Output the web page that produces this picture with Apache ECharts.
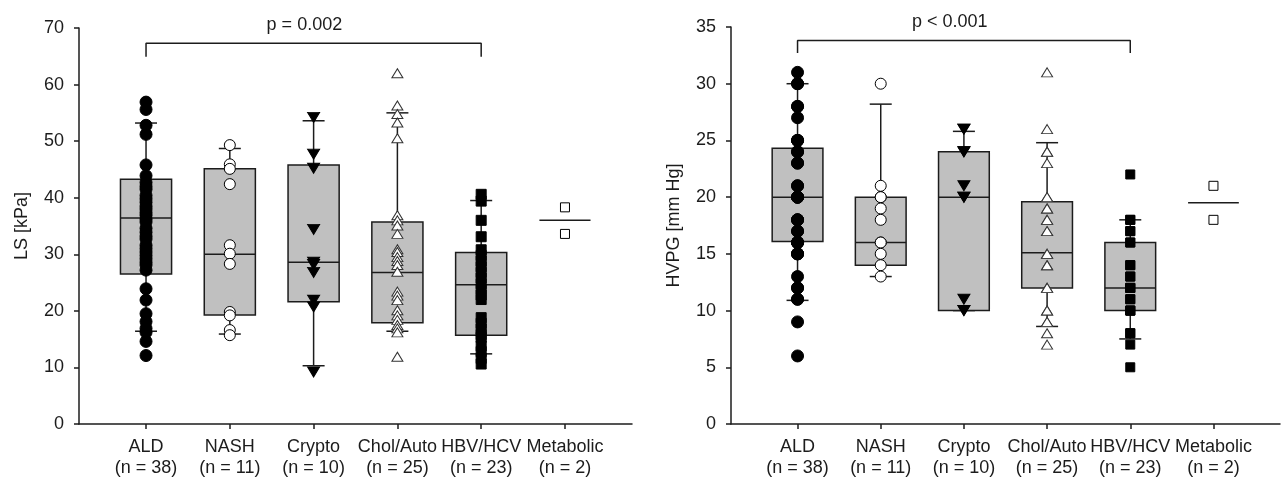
<!DOCTYPE html>
<html>
<head>
<meta charset="utf-8">
<script src="https://cdn.jsdelivr.net/npm/echarts@6/dist/echarts.min.js"></script>
<style>
  html, body { margin: 0; padding: 0; background: #fff; }
  #chart { width: 1285px; height: 479px; }
</style>
</head>
<body>
<div id="chart"></div>
<script>
// categories and group sizes
const categories = ["ALD", "NASH", "Crypto", "Chol/Auto", "HBV/HCV", "Metabolic"];
const groupN = [38, 11, 10, 25, 23, 2];

// LS [kPa] box statistics (lower whisker, Q1, median, Q3, upper whisker)
const lsLow = [16.4, 15.9, 10.3, 16.4, 12.4, null];
const lsQ1 = [26.5, 19.25, 21.6, 17.9, 15.7, null];
const lsMed = [36.4, 30.0, 28.6, 26.8, 24.6, 36.0];
const lsQ3 = [43.25, 45.1, 45.8, 35.7, 30.3, null];
const lsHigh = [53.2, 48.7, 53.6, 55.0, 39.5, null];

// LS individual values
const lsALD = [56.9, 55.6, 52.8, 51.2, 45.8, 43.9, 42.7, 42.0, 41.5, 40.4, 39.8, 39.2, 38.5, 38.0, 37.4, 36.9, 36.2, 35.7, 34.6, 33.9, 33.2, 32.7, 31.6, 31.0, 30.4, 29.8, 29.2, 28.6, 28.1, 27.2, 23.9, 21.9, 19.5, 18.1, 16.9, 16.2, 14.6, 12.1];
const lsNASH = [49.3, 45.9, 45.1, 42.4, 31.6, 30.1, 28.3, 19.8, 19.2, 16.6, 15.7];
const lsCrypto = [54.2, 47.7, 45.2, 34.4, 28.6, 28.2, 26.8, 21.9, 20.7, 9.2];
const lsChol = [62.0, 56.3, 54.8, 53.3, 50.5, 36.9, 36.0, 35.1, 33.6, 30.9, 30.4, 29.5, 28.8, 28.1, 26.9, 23.4, 22.7, 21.9, 20.1, 19.2, 18.4, 17.5, 16.9, 16.2, 11.9];
const lsHBV = [40.6, 39.4, 36.0, 33.1, 30.8, 29.8, 28.8, 27.8, 26.8, 25.8, 24.8, 23.8, 22.8, 22.0, 18.8, 17.8, 16.8, 15.8, 15.3, 13.8, 12.8, 11.6, 10.6];
const lsMeta = [38.3, 33.6];

// HVPG [mm Hg] box statistics
const hvLow = [10.9, 13.0, 10.0, 8.6, 7.5, null];
const hvQ1 = [16.1, 14.0, 10.0, 12.0, 10.0, null];
const hvMed = [20.0, 16.0, 20.0, 15.1, 12.0, 19.5];
const hvQ3 = [24.3, 20.0, 24.0, 19.6, 16.0, null];
const hvHigh = [30.0, 28.2, 25.8, 24.8, 18.0, null];

// HVPG individual values
const hvALD = [31, 30, 30, 28, 28, 27, 25, 25, 25, 24, 24, 23, 23, 21, 21, 20, 20, 20, 20, 18, 18, 18, 17, 17, 16, 16, 16, 16, 15, 15, 15, 13, 12, 12, 11, 11, 9, 6];
const hvNASH = [30, 21, 20, 20, 19, 18, 16, 16, 15, 14, 13];
const hvCrypto = [26, 26, 24, 24, 21, 20, 20, 11, 10, 10];
const hvChol = [31, 26, 24, 24, 23, 20, 20, 19, 19, 18, 18, 17, 17, 15, 15, 14, 14, 12, 12, 10, 10, 9, 9, 8, 7];
const hvHBV = [22, 18, 18, 17, 17, 16, 16, 14, 14, 13, 13, 12, 12, 12, 11, 11, 10, 10, 10, 8, 8, 7, 5];
const hvMeta = [21, 18];

// significance brackets: [from category, to category, foot value, top value], label value
const bracketLS = [1, 5, 64.9, 67.3];
const pTextLS = ["p = 0.002", 2.89, 70.6];
const bracketHV = [1, 5, 32.7, 33.8];
const pTextHV = ["p < 0.001", 2.83, 35.4];

const INK = "#1c1c1c";
const FONT = "'Liberation Sans', Arial, sans-serif";

function renderBox(params, api) {
    const x = api.value(0);
    const lo = api.value(1), q1 = api.value(2), med = api.value(3), q3 = api.value(4), hi = api.value(5);
    const half = api.size([0.61, 0])[0] / 2;
    const cap = 11;
    const m = api.coord([x, med]);
    const style = { stroke: INK, lineWidth: 1.5, fill: null };
    const children = [];
    if (!isNaN(q1)) {
        const top = api.coord([x, q3]);
        const bot = api.coord([x, q1]);
        const hiP = api.coord([x, hi]);
        const loP = api.coord([x, lo]);
        children.push({ type: "line", shape: { x1: m[0], y1: hiP[1], x2: m[0], y2: top[1] }, style: style });
        children.push({ type: "line", shape: { x1: m[0], y1: loP[1], x2: m[0], y2: bot[1] }, style: style });
        children.push({ type: "line", shape: { x1: m[0] - cap, y1: hiP[1], x2: m[0] + cap, y2: hiP[1] }, style: style });
        children.push({ type: "line", shape: { x1: m[0] - cap, y1: loP[1], x2: m[0] + cap, y2: loP[1] }, style: style });
        children.push({
            type: "rect",
            shape: { x: m[0] - half, y: top[1], width: half * 2, height: bot[1] - top[1] },
            style: { fill: "#c0c0c0", stroke: INK, lineWidth: 1.5 }
        });
    }
    children.push({ type: "line", shape: { x1: m[0] - half, y1: m[1], x2: m[0] + half, y2: m[1] }, style: style });
    return { type: "group", children: children };
}

function boxData(low, q1, med, q3, high) {
    const e = v => (v == null ? "-" : v);
    return categories.map((c, i) => [i + 1, e(low[i]), e(q1[i]), e(med[i]), e(q3[i]), e(high[i])]);
}

const markers = [
    { symbol: "circle", size: 12, color: "#000", border: "#000" },
    { symbol: "circle", size: 11, color: "#fff", border: "#000" },
    { symbol: "triangle", size: [12, 10], color: "#000", border: "#000", rotate: 180 },
    { symbol: "triangle", size: [11, 9], color: "#fff", border: "#333" },
    { symbol: "rect", size: 10, color: "#000", border: "#000" },
    { symbol: "rect", size: 9, color: "#fff", border: "#000" }
];

function panelSeries(idx, stats, groups, bracket, pText, squareSize) {
    const list = [{
        type: "custom",
        xAxisIndex: idx,
        yAxisIndex: idx,
        renderItem: renderBox,
        encode: { x: 0, y: [1, 2, 3, 4, 5] },
        data: boxData.apply(null, stats),
        silent: true,
        z: 2
    }];
    groups.forEach((vals, g) => {
        const mk = markers[g];
        let size = mk.size;
        if (g === 4 && squareSize) size = squareSize;
        list.push({
            type: "scatter",
            xAxisIndex: idx,
            yAxisIndex: idx,
            symbol: mk.symbol,
            symbolSize: size,
            symbolRotate: mk.rotate || 0,
            itemStyle: { color: mk.color, borderColor: mk.border, borderWidth: 1, opacity: 1 },
            data: vals.map(v => [g + 1, v]),
            clip: false,
            silent: true,
            z: 3
        });
    });
    list.push({
        type: "line",
        xAxisIndex: idx,
        yAxisIndex: idx,
        symbol: "none",
        lineStyle: { color: INK, width: 1.5 },
        data: [[bracket[0], bracket[2]], [bracket[0], bracket[3]], [bracket[1], bracket[3]], [bracket[1], bracket[2]]],
        silent: true,
        z: 3
    });
    list.push({
        type: "scatter",
        xAxisIndex: idx,
        yAxisIndex: idx,
        symbolSize: 0,
        clip: false,
        itemStyle: { opacity: 1 },
        data: [[pText[1], pText[2]]],
        label: {
            show: true,
            position: "inside",
            formatter: pText[0],
            color: INK,
            opacity: 1,
            fontSize: 18,
            fontFamily: FONT
        },
        silent: true,
        z: 4
    });
    return list;
}

function xAxisDef(gridIndex) {
    const ticks = categories.map((c, i) => i + 1);
    return {
        type: "value",
        gridIndex: gridIndex,
        min: 0.2,
        max: 6.8,
        splitLine: { show: false },
        axisLine: { show: true, onZero: false, lineStyle: { color: INK, width: 1.5 } },
        axisTick: { show: true, customValues: ticks, length: 5, lineStyle: { color: INK, width: 1.5 } },
        axisLabel: {
            customValues: ticks,
            margin: 13,
            color: INK,
            fontSize: 18,
            fontFamily: FONT,
            lineHeight: 21,
            formatter: v => {
                const i = Math.round(v) - 1;
                return categories[i] + "\n(n = " + groupN[i] + ")";
            }
        }
    };
}

function yAxisDef(gridIndex, name, max, interval, gap) {
    return {
        type: "value",
        gridIndex: gridIndex,
        min: 0,
        max: max,
        interval: interval,
        name: name,
        nameLocation: "middle",
        nameGap: gap,
        nameTextStyle: { color: INK, fontSize: 18, fontFamily: FONT },
        splitLine: { show: false },
        axisLine: { show: true, lineStyle: { color: INK, width: 1.5 } },
        axisTick: { show: true, length: 5, lineStyle: { color: INK, width: 1.5 } },
        axisLabel: { margin: 15, color: INK, fontSize: 18, fontFamily: FONT }
    };
}

const chart = echarts.init(document.getElementById("chart"), null, { renderer: "canvas" });

const option = {
    animation: false,
    backgroundColor: "#fff",
    grid: [
        { left: 79, top: 28, width: 553, height: 398 },
        { left: 731, top: 27, width: 549, height: 397 }
    ],
    xAxis: [xAxisDef(0), xAxisDef(1)],
    yAxis: [
        yAxisDef(0, "LS [kPa]", 70, 10, 48),
        yAxisDef(1, "HVPG [mm Hg]", 35, 5, 48)
    ],
    series: [].concat(
        panelSeries(0, [lsLow, lsQ1, lsMed, lsQ3, lsHigh],
            [lsALD, lsNASH, lsCrypto, lsChol, lsHBV, lsMeta], bracketLS, pTextLS, 10),
        panelSeries(1, [hvLow, hvQ1, hvMed, hvQ3, hvHigh],
            [hvALD, hvNASH, hvCrypto, hvChol, hvHBV, hvMeta], bracketHV, pTextHV, 9)
    )
};

chart.setOption(option);
</script>
</body>
</html>
